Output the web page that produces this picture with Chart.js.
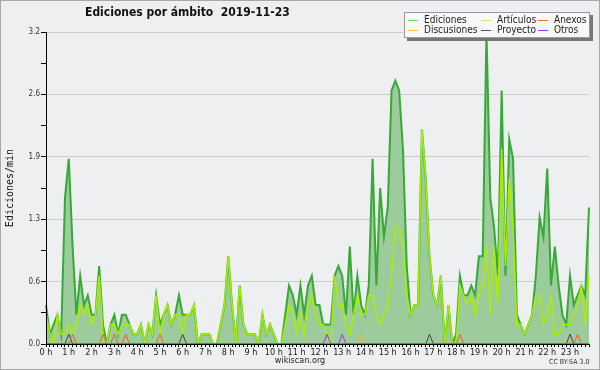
<!DOCTYPE html>
<html lang="es">
<head>
  <meta charset="UTF-8">
  <title>Ediciones por ámbito 2019-11-23</title>
  <style>
    body {
      margin: 0;
      background-color: #eeeff0;
      font-family: 'DejaVu Sans Condensed', 'DejaVu Sans', sans-serif;
      color: #222;
    }

    #wrap {
      position: relative;
      width: 600px;
      height: 370px;
      overflow: hidden;
    }

    #chart {
      position: absolute;
      left: 0;
      top: 0;
    }

    #frame {
      position: absolute;
      left: 0;
      top: 0;
      width: 600px;
      height: 370px;
      box-sizing: border-box;
      border: 1px solid #a8a8a8;
      pointer-events: none;
    }

    #title {
      position: absolute;
      left: 85px;
      top: 5px;
      font-weight: bold;
      font-size: 12px;
      white-space: pre;
      color: #111;
    }

    #legend {
      position: absolute;
      left: 404px;
      top: 12px;
      width: 186px;
      height: 26px;
      background-color: #f8f8f8;
      border: 1px solid #999;
      box-shadow: 3px 3px 0 #777;
      display: grid;
      grid-template-columns: 73px 57px 56px;
      grid-template-rows: 10px 10px;
      grid-auto-flow: column;
      padding: 2px 0 0 3px;
      box-sizing: border-box;
      font-size: 10px;
      line-height: 10px;
    }

    #legend span.sw {
      display: inline-block;
      width: 10px;
      height: 0;
      border-top: 1px solid;
      vertical-align: middle;
      margin-right: 6px;
    }

    #source {
      position: absolute;
      left: 0;
      width: 600px;
      top: 355px;
      text-align: center;
      font-size: 9px;
    }

    #licence {
      position: absolute;
      left: 549px;
      top: 358px;
      font-size: 7px;
      color: #333;
    }
  </style>
</head>

<body>
  <div id="wrap">
    <canvas id="chart" width="600" height="370"></canvas>
    <div id="title">Ediciones por ámbito  2019-11-23</div>
    <div id="legend"></div>
    <div id="source">wikiscan.org</div>
    <div id="licence">CC BY-SA 3.0</div>
    <div id="frame"></div>
  </div>

  <script src="https://cdn.jsdelivr.net/npm/chart.js@4"></script>

  <script>
    // 10-minute slots, values in edits per minute
    const hourLabels = ['0 h', '1 h', '2 h', '3 h', '4 h', '5 h', '6 h', '7 h', '8 h', '9 h', '10 h', '11 h',
      '12 h', '13 h', '14 h', '15 h', '16 h', '17 h', '18 h', '19 h', '20 h', '21 h', '22 h', '23 h'];

    const ediciones = [
      0.4, 0.1, 0.2, 0.3, 0.1, 1.5, 1.9, 1.0, 0.3, 0.7, 0.4, 0.5,
      0.3, 0.3, 0.8, 0.2, 0, 0.2, 0.3, 0.1, 0.3, 0.3, 0.2, 0.1,
      0.1, 0.2, 0, 0.2, 0.1, 0.5, 0.2, 0.3, 0.4, 0.2, 0.3, 0.5,
      0.3, 0.3, 0.3, 0.4, 0, 0.1, 0.1, 0.1, 0, 0, 0.2, 0.4,
      0.9, 0.4, 0, 0.6, 0.2, 0.1, 0.1, 0.1, 0, 0.3, 0.1, 0.2,
      0.1, 0, 0, 0.3, 0.6, 0.5, 0.3, 0.6, 0.3, 0.6, 0.7, 0.4,
      0.4, 0.2, 0.2, 0.2, 0.7, 0.8, 0.7, 0.3, 1.0, 0.3, 0.7, 0.4,
      0.3, 0.6, 1.9, 0.6, 1.6, 1.1, 1.4, 2.6, 2.7, 2.6, 2.0, 0.8,
      0.3, 0.4, 0.4, 2.2, 1.7, 0.9, 0.5, 0.4, 0.7, 0, 0.4, 0,
      0.1, 0.7, 0.5, 0.5, 0.6, 0.5, 0.9, 0.9, 3.2, 1.5, 1.2, 0.7,
      2.6, 0.7, 2.1, 1.9, 0.3, 0.2, 0.1, 0.2, 0.3, 0.7, 1.3, 1.1,
      1.8, 0.6, 1.0, 0.6, 0.3, 0.2, 0.7, 0.4, 0.5, 0.6, 0.5, 1.4
    ];

    const articulos = [
      0.3, 0.1, 0, 0.3, 0.1, 0.1, 0.2, 0.1, 0.2, 0.4, 0.3, 0.4,
      0.2, 0.3, 0.7, 0.1, 0, 0.2, 0.2, 0.1, 0.2, 0.2, 0.2, 0.1,
      0.1, 0.2, 0, 0.2, 0.1, 0.5, 0.1, 0.3, 0.4, 0.2, 0.3, 0.3,
      0.1, 0.3, 0.3, 0.4, 0, 0.1, 0.1, 0.1, 0, 0, 0.2, 0.4,
      0.9, 0.4, 0, 0.6, 0.2, 0.1, 0.1, 0.1, 0, 0.3, 0.1, 0.2,
      0.1, 0, 0, 0.2, 0.4, 0.3, 0.1, 0.3, 0.1, 0.4, 0.5, 0.3,
      0.2, 0.2, 0.1, 0, 0.7, 0.4, 0.4, 0.2, 0.1, 0.3, 0.5, 0.3,
      0.3, 0.5, 0.5, 0.3, 0.2, 0.3, 0.4, 0.7, 1.2, 1.2, 1.0, 0.5,
      0.3, 0.4, 0.4, 2.2, 1.7, 0.9, 0.5, 0.4, 0.7, 0, 0.4, 0,
      0, 0.6, 0.5, 0.4, 0.5, 0.3, 0.5, 0.6, 1.0, 0.3, 1.0, 0.4,
      2.0, 0.8, 1.7, 1.2, 0.2, 0.2, 0.1, 0.2, 0.3, 0.5, 0.5, 0.2,
      0.3, 0.5, 0.1, 0.1, 0.2, 0.2, 0.2, 0.3, 0.4, 0.6, 0.2, 0.7
    ];

    const discusiones = [
      0, 0, 0, 0, 0, 0, 0, 0, 0, 0, 0, 0,
      0, 0, 0, 0, 0, 0, 0, 0, 0, 0, 0, 0,
      0, 0, 0, 0, 0, 0, 0, 0, 0, 0, 0, 0,
      0, 0, 0, 0, 0, 0, 0, 0, 0, 0, 0, 0,
      0, 0, 0, 0, 0, 0, 0, 0, 0, 0, 0, 0,
      0, 0, 0, 0, 0, 0, 0, 0, 0, 0, 0, 0,
      0, 0, 0, 0, 0, 0, 0, 0, 0, 0, 0, 0.1,
      0, 0, 0, 0, 0, 0, 0, 0, 0, 0, 0, 0,
      0, 0, 0, 0, 0, 0, 0, 0, 0, 0, 0, 0,
      0, 0, 0, 0, 0, 0, 0, 0, 0, 0, 0, 0,
      0, 0, 0, 0, 0, 0, 0, 0, 0, 0, 0, 0,
      0, 0, 0, 0, 0, 0, 0, 0, 0, 0, 0, 0
    ];

    const proyecto = [
      0, 0, 0, 0, 0, 0, 0.1, 0, 0, 0, 0, 0,
      0, 0, 0, 0, 0, 0, 0, 0, 0, 0, 0, 0,
      0, 0, 0, 0, 0, 0, 0, 0, 0, 0, 0, 0,
      0.1, 0, 0, 0, 0, 0, 0, 0, 0, 0, 0, 0,
      0, 0, 0, 0, 0, 0, 0, 0, 0, 0, 0, 0,
      0, 0, 0, 0, 0, 0, 0, 0, 0, 0, 0, 0,
      0, 0, 0, 0, 0, 0, 0, 0, 0, 0, 0, 0,
      0, 0, 0, 0, 0, 0, 0, 0, 0, 0, 0, 0,
      0, 0, 0, 0, 0, 0.1, 0, 0, 0, 0, 0, 0,
      0, 0, 0, 0, 0, 0, 0, 0, 0, 0, 0, 0,
      0, 0, 0, 0, 0, 0, 0, 0, 0, 0, 0, 0,
      0, 0, 0, 0, 0, 0, 0.1, 0, 0, 0, 0, 0
    ];

    const anexos = [
      0, 0, 0, 0, 0, 0, 0, 0.1, 0, 0, 0, 0,
      0, 0, 0, 0.1, 0, 0, 0.1, 0, 0, 0.1, 0, 0,
      0, 0, 0, 0, 0, 0, 0.1, 0, 0, 0, 0, 0,
      0, 0, 0, 0, 0, 0, 0, 0, 0, 0, 0, 0,
      0, 0, 0, 0, 0, 0, 0, 0, 0, 0, 0, 0,
      0, 0, 0, 0, 0, 0, 0, 0, 0, 0, 0, 0,
      0, 0, 0, 0, 0, 0, 0, 0, 0, 0, 0, 0,
      0, 0, 0, 0, 0, 0, 0, 0, 0, 0, 0, 0,
      0, 0, 0, 0, 0, 0, 0, 0, 0, 0, 0, 0,
      0, 0.1, 0, 0, 0, 0, 0, 0, 0, 0, 0, 0,
      0, 0, 0, 0, 0, 0, 0, 0, 0, 0, 0, 0,
      0, 0, 0, 0, 0, 0, 0, 0, 0.1, 0, 0, 0
    ];

    const otros = [
      0, 0, 0, 0, 0, 0, 0, 0, 0, 0, 0, 0,
      0, 0, 0, 0, 0, 0, 0, 0, 0, 0, 0, 0,
      0, 0, 0, 0, 0, 0, 0, 0, 0, 0, 0, 0,
      0, 0, 0, 0, 0, 0, 0, 0, 0, 0, 0, 0,
      0, 0, 0, 0, 0, 0, 0, 0, 0, 0, 0, 0,
      0, 0, 0, 0, 0, 0, 0, 0, 0, 0, 0, 0,
      0, 0, 0.1, 0, 0, 0, 0.1, 0, 0, 0, 0, 0,
      0, 0, 0, 0, 0, 0, 0, 0, 0, 0, 0, 0,
      0, 0, 0, 0, 0, 0, 0, 0, 0, 0, 0, 0,
      0, 0, 0, 0, 0, 0, 0, 0, 0, 0, 0, 0,
      0, 0, 0, 0, 0, 0, 0, 0, 0, 0, 0, 0,
      0, 0, 0, 0, 0, 0, 0, 0, 0, 0, 0, 0
    ];

    const yMajor = [0, 0.64, 1.28, 1.92, 2.56, 3.2];
    const yLabels = ['0.0', '0.6', '1.3', '1.9', '2.6', '3.2'];

    // legend order = column by column, as in the picture
    const legendItems = [
      { label: 'Ediciones', color: '#88cc88' },
      { label: 'Discusiones', color: '#f2c94c' },
      { label: 'Artículos', color: '#c8ea5a' },
      { label: 'Proyecto', color: '#555555' },
      { label: 'Anexos', color: '#ee7744' },
      { label: 'Otros', color: '#9944ee' }
    ];

    const slots = ediciones.map((_, i) => i);

    const legend = document.getElementById('legend');
    legendItems.forEach(item => {
      const div = document.createElement('div');
      div.innerHTML = '<span class="sw" style="border-color:' + item.color + '"></span>' + item.label;
      legend.appendChild(div);
    });

    // the black axis lines sit on top of the filled area
    const axisOnTop = {
      id: 'axisOnTop',
      afterDatasetsDraw(chart) {
        const { ctx, chartArea: a } = chart;
        ctx.save();
        ctx.strokeStyle = '#000';
        ctx.lineWidth = 1;
        ctx.beginPath();
        ctx.moveTo(Math.round(a.left) + 0.5, a.top);
        ctx.lineTo(Math.round(a.left) + 0.5, Math.round(a.bottom) + 0.5);
        ctx.lineTo(a.right, Math.round(a.bottom) + 0.5);
        ctx.stroke();
        ctx.restore();
      }
    };

    function line(label, data, color, width) {
      return {
        label: label,
        data: data,
        borderColor: color,
        borderWidth: width,
        pointRadius: 0,
        tension: 0,
        fill: false
      };
    }

    const ctx = document.getElementById('chart').getContext('2d');
    const chart = new Chart(ctx, {
      type: 'line',
      data: {
        labels: slots,
        datasets: [
          line('Otros', otros, '#8a3ff0', 1),
          line('Anexos', anexos, '#f06020', 1),
          line('Proyecto', proyecto, '#444444', 1),
          line('Discusiones', discusiones, '#e8b820', 1),
          line('Artículos', articulos, '#aaee00', 1.5),
          {
            label: 'Ediciones',
            data: ediciones,
            borderColor: '#36a936',
            borderWidth: 2,
            backgroundColor: '#9ccb9c',
            pointRadius: 0,
            tension: 0,
            fill: 'origin'
          }
        ]
      },
      options: {
        responsive: false,
        animation: false,
        layout: { padding: { left: 0, right: 11, top: 32, bottom: 0 } },
        plugins: {
          legend: { display: false },
          tooltip: { enabled: false }
        },
        scales: {
          x: {
            type: 'category',
            offset: false,
            afterFit: axis => { axis.height = 26; },
            grid: {
              drawOnChartArea: false,
              drawTicks: true,
              tickLength: 3,
              tickColor: '#000'
            },
            border: { color: '#000' },
            ticks: {
              autoSkip: false,
              maxRotation: 0,
              padding: 0,
              color: '#222',
              font: { family: 'DejaVu Sans Condensed', size: 9 },
              callback: (v, i) => (i % 6 === 0 ? hourLabels[i / 6] : '')
            }
          },
          y: {
            min: 0,
            max: 3.2,
            afterFit: axis => { axis.width = 46; },
            afterBuildTicks: axis => {
              const t = [];
              yMajor.forEach((v, i) => {
                t.push({ value: v });
                if (i < yMajor.length - 1) t.push({ value: (v + yMajor[i + 1]) / 2 });
              });
              axis.ticks = t;
            },
            grid: {
              color: c => (c.tick && yMajor.includes(c.tick.value) && c.tick.value > 0 ? '#cccccc' : 'rgba(0,0,0,0)'),
              tickColor: '#000',
              tickLength: 5
            },
            border: { color: '#000' },
            ticks: {
              padding: 1,
              color: '#333',
              font: { family: 'DejaVu Sans Condensed', size: 8 },
              callback: v => {
                const k = yMajor.indexOf(v);
                return k >= 0 ? yLabels[k] : '';
              }
            },
            title: {
              display: true,
              text: 'Ediciones/min',
              color: '#111',
              font: { family: 'DejaVu Sans Mono', size: 10 },
              padding: { top: 4, bottom: 0 }
            }
          }
        }
      },
      plugins: [axisOnTop]
    });
  </script>
</body>

</html>
